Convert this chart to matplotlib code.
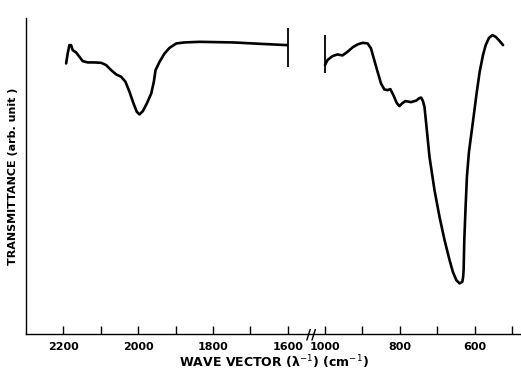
import numpy as np
import matplotlib
matplotlib.use("Agg")
import matplotlib.pyplot as plt

# high-frequency band (left of the axis break), cm^-1
hi_wave = [2192.8, 2188.6, 2184.0, 2179.5, 2175.2, 2166.1, 2157.2, 2148.4, 2135.0,
           2117.0, 2099.1, 2085.7, 2072.3, 2058.9, 2045.5, 2034.0, 2023.3, 2012.6,
           2003.7, 1996.5, 1987.6, 1976.9, 1965.1, 1958.2, 1953.6, 1942.9, 1929.5,
           1916.1, 1898, 1876, 1836, 1747, 1657, 1602]
hi_trans = [270.7, 280.7, 289, 289, 284, 281.7, 277.3, 273, 271.7,
            271.7, 271.3, 269, 264, 259.7, 257.3, 252.3, 242.3, 230.7,
            222.3, 219.7, 223, 230.7, 240.7, 252.3, 264, 272.3, 280.7,
            286.3, 290.7, 291.7, 292.3, 291.7, 290, 289]

# low-frequency band (right of the axis break), cm^-1
lo_wave = [1002.7, 993.8, 980.4, 967.0, 953.6, 940.1, 926.7, 913.3, 899.9, 886.4,
           877.3, 868.5, 859.6, 850.5, 841.6, 832.8, 825.5, 817.4, 808.6, 801.3,
           793.3, 785.2, 769.9, 756.5, 747.7, 743.1, 738.3, 734.2, 729.7, 720.8,
           707.4, 694.0, 680.5, 667.1, 658.3, 649.1, 640.3, 633.0, 630.9, 629.5,
           627.7, 624.2, 620.7, 615.3, 604.6, 595.4, 586.6, 577.7, 570.5, 561.6,
           552.5, 543.6, 532.9, 524.0]
lo_trans = [269, 274, 278, 279.7, 278.7, 282.3, 286.7, 289.7, 291.3, 290.7,
            285.7, 274, 262.3, 250.7, 244.7, 244, 245, 239, 231.3, 228,
            231, 233, 232, 233.5, 236, 236.5, 233, 227.3, 210.7, 177.3,
            144, 117.3, 94, 74, 62.3, 54, 50.7, 52.3, 57, 64,
            94, 127.3, 157.3, 182, 212.3, 239, 262.3, 279, 289, 296.3,
            299, 297.3, 293, 289]

# end markers of the two scans
marker_wave = [1600, 1003]
marker_lo = [267, 261]
marker_hi = [306, 299]

major_ticks = [2200, 2100, 2000, 1900, 1800, 1700, 1600, 1000, 900, 800, 700, 600, 500]
tick_labels = ["2200", "", "2000", "", "1800", "", "1600", "1000", "", "800", "", "600", ""]


def fwd(w):
    w = np.asarray(w, dtype=float)
    return np.where(w <= 1000, w,
                    np.where(w <= 1600, 1000 + (w - 1000) / 6.0, w - 500))


def inv(v):
    v = np.asarray(v, dtype=float)
    return np.where(v <= 1000, v,
                    np.where(v <= 1100, 1000 + (v - 1000) * 6.0, v + 500))


fig = plt.figure(figsize=(5.21, 3.70), dpi=100)
ax = fig.add_axes([0.05, 0.097, 0.95, 0.854])
ax.set_xscale("function", functions=(fwd, inv))

ax.plot(hi_wave, hi_trans, color="black", lw=1.9, solid_joinstyle="round",
        solid_capstyle="round")
ax.plot(lo_wave, lo_trans, color="black", lw=1.9, solid_joinstyle="round",
        solid_capstyle="round")
ax.vlines(marker_wave, marker_lo, marker_hi, color="black", lw=1.3)

ax.set_xlim(2300, 476)
ax.set_ylim(0, 316)

ax.set_xticks(major_ticks)
ax.set_xticklabels(tick_labels)
ax.xaxis.set_minor_locator(matplotlib.ticker.NullLocator())
ax.tick_params(axis="x", direction="in", length=6, width=1, pad=6,
               labelsize=8)
for lab in ax.get_xticklabels():
    lab.set_fontweight("bold")
ax.set_yticks([])

ax.spines["top"].set_visible(False)
ax.spines["right"].set_visible(False)
ax.spines["left"].set_linewidth(1)
ax.spines["bottom"].set_linewidth(1)

# axis break mark
ax.text(0.575, 0.0, "//", transform=ax.transAxes, ha="center", va="center",
        fontsize=10, fontweight="bold")

ax.set_xlabel("WAVE VECTOR (λ$^{-1}$) (cm$^{-1}$)", fontsize=9,
              fontweight="bold", labelpad=1)
ax.set_ylabel("TRANSMITTANCE (arb. unit )", fontsize=8, fontweight="bold",
              labelpad=6)

fig.savefig("out.png", dpi=100)
